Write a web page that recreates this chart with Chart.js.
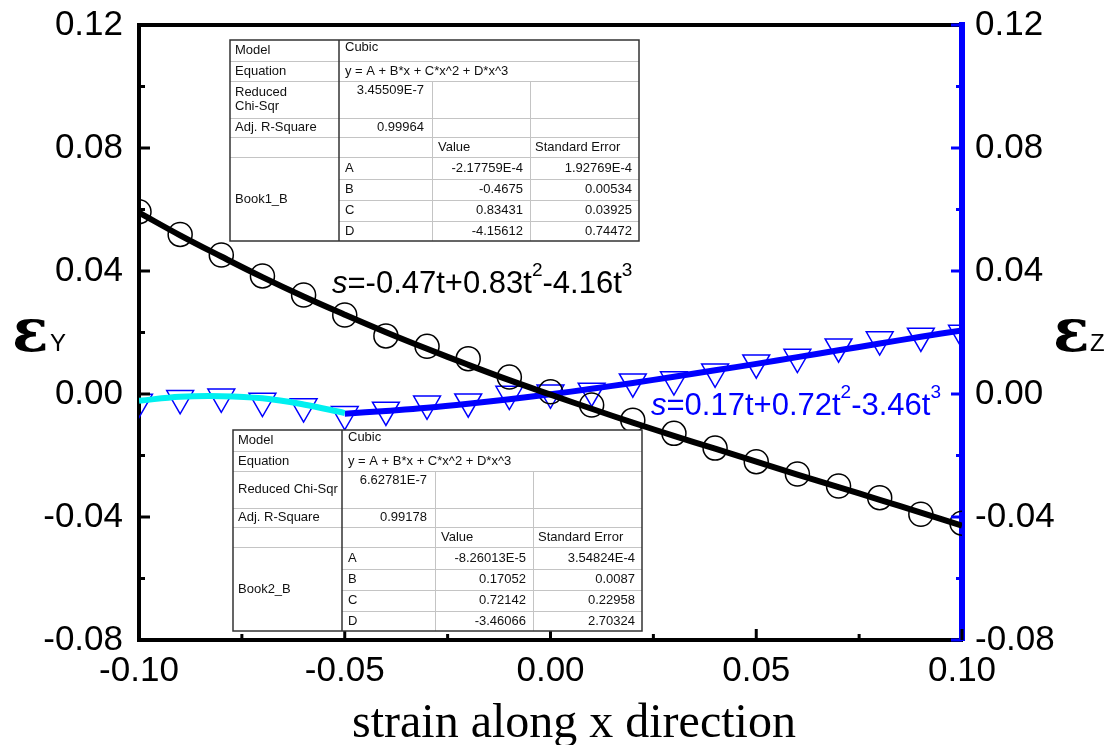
<!DOCTYPE html>
<html>
<head>
<meta charset="utf-8">
<script src="https://cdn.jsdelivr.net/npm/chart.js@4.4.0/dist/chart.umd.min.js"></script>
<style>
  html, body { margin: 0; padding: 0; background: #fff; }
  #wrap { width: 1111px; height: 745px; }
</style>
</head>
<body>
<div id="wrap"><canvas id="strain" width="1111" height="745"></canvas></div>
<script>
const SANS = "'Liberation Sans', Arial, sans-serif";
const SERIF = "'Liberation Serif', 'Times New Roman', serif";

// measured points (strain along x)
const strainX = [-0.10, -0.09, -0.08, -0.07, -0.06, -0.05, -0.04, -0.03, -0.02, -0.01, 0.00,
  0.01, 0.02, 0.03, 0.04, 0.05, 0.06, 0.07, 0.08, 0.09, 0.10];
const epsY = [0.0593, 0.0519, 0.0452, 0.0384, 0.0322, 0.0257, 0.0189, 0.0155, 0.0115, 0.0055, 0.0007,
  -0.0036, -0.0085, -0.0128, -0.0176, -0.0220, -0.0260, -0.0299, -0.0337, -0.0391, -0.0420];
const epsZ = [-0.0026, -0.0014, -0.0009, -0.0023, -0.0041, -0.0066, -0.0052, -0.0032, -0.0025, 0.0000, 0.0004,
  0.0010, 0.0040, 0.0047, 0.0072, 0.0102, 0.0120, 0.0154, 0.0177, 0.0189, 0.0198];

// fitted curves
const fitY = [0.0590, 0.0516, 0.0447, 0.0380, 0.0317, 0.0258, 0.0201, 0.0147, 0.0095, 0.0045, -0.0002,
  -0.0048, -0.0093, -0.0136, -0.0178, -0.0220, -0.0262, -0.0303, -0.0344, -0.0386, -0.0428];
const fitZLowX = [-0.10, -0.09, -0.08, -0.07, -0.06, -0.05];
const fitZLow = [-0.0022, -0.0009, -0.0007, -0.0014, -0.0034, -0.0062];
const fitZHighX = [-0.05, -0.04, -0.03, -0.02, -0.01, 0.00, 0.01, 0.02, 0.03, 0.04, 0.05, 0.06, 0.07, 0.08, 0.09, 0.10];
const fitZHigh = [-0.0064, -0.0055, -0.0045, -0.0032, -0.0017, -0.0001, 0.0017, 0.0036, 0.0056, 0.0077,
  0.0098, 0.0120, 0.0142, 0.0164, 0.0186, 0.0207];

// fit report tables
const fitModel = "Cubic";
const fitEquation = "y = A + B*x + C*x^2 + D*x^3";
const paramNames = ["A", "B", "C", "D"];
const fitYStats = ["3.45509E-7", "0.99964"];
const fitYValues = ["-2.17759E-4", "-0.4675", "0.83431", "-4.15612"];
const fitYErrors = ["1.92769E-4", "0.00534", "0.03925", "0.74472"];
const fitZStats = ["6.62781E-7", "0.99178"];
const fitZValues = ["-8.26013E-5", "0.17052", "0.72142", "-3.46066"];
const fitZErrors = ["3.54824E-4", "0.0087", "0.22958", "2.70324"];

const pts = (xs, ys) => xs.map((x, i) => ({ x: x, y: ys[i] }));
const fmt = v => (Math.abs(v) < 1e-9 ? 0 : v).toFixed(2);

function line(ctx, x1, y1, x2, y2) {
  ctx.beginPath();
  ctx.moveTo(x1, y1);
  ctx.lineTo(x2, y2);
  ctx.stroke();
}

// origin style ticks pointing into the plot
function inwardTicks(ctx, scale, side, color, area) {
  const vals = scale.ticks.map(t => t.value);
  const step = vals[1] - vals[0];
  ctx.strokeStyle = color;
  ctx.lineWidth = 3;
  const tick = (v, len) => {
    const p = scale.getPixelForValue(v);
    if (side === "left") line(ctx, area.left, p, area.left + len, p);
    if (side === "right") line(ctx, area.right, p, area.right - len, p);
    if (side === "bottom") line(ctx, p, area.bottom, p, area.bottom - len);
  };
  vals.forEach((v, i) => {
    tick(v, 11);
    if (i < vals.length - 1) tick(v + step / 2, 6);
  });
}

function drawFitTable(ctx, left, top, chiLines, stats, book, values, errors) {
  const cw = [109, 93, 98, 109];
  const rh = [21, 20, 37, 19, 20, 22, 21, 21, 20];
  const cx = [left];
  cw.forEach(w => cx.push(cx[cx.length - 1] + w));
  const ry = [top];
  rh.forEach(h => ry.push(ry[ry.length - 1] + h));
  const right = cx[4], bottom = ry[9];
  const mid = i => (ry[i] + ry[i + 1]) / 2;

  ctx.fillStyle = "#fff";
  ctx.fillRect(left, top, right - left, bottom - top);

  ctx.strokeStyle = "#c4c4c4";
  ctx.lineWidth = 1;
  for (let i = 1; i <= 5; i++) line(ctx, left, ry[i] + 0.5, right, ry[i] + 0.5);
  for (let i = 6; i <= 8; i++) line(ctx, cx[1], ry[i] + 0.5, right, ry[i] + 0.5);
  line(ctx, cx[2] + 0.5, ry[2], cx[2] + 0.5, bottom);
  line(ctx, cx[3] + 0.5, ry[2], cx[3] + 0.5, bottom);

  ctx.strokeStyle = "#333";
  ctx.lineWidth = 1.5;
  ctx.strokeRect(left, top, right - left, bottom - top);
  line(ctx, cx[1], top, cx[1], bottom);

  ctx.fillStyle = "#111";
  ctx.font = "13px " + SANS;
  ctx.textBaseline = "middle";
  ctx.textAlign = "left";
  ctx.fillText("Model", left + 5, mid(0));
  ctx.fillText(fitModel, cx[1] + 6, mid(0) - 3);
  ctx.fillText("Equation", left + 5, mid(1));
  ctx.fillText(fitEquation, cx[1] + 6, mid(1));
  const lh = 14;
  chiLines.forEach((t, k) => {
    ctx.fillText(t, left + 5, mid(2) + (k - (chiLines.length - 1) / 2) * lh);
  });
  ctx.fillText("Adj. R-Square", left + 5, mid(3));
  ctx.fillText("Value", cx[2] + 6, mid(4));
  ctx.fillText("Standard Error", cx[3] + 5, mid(4));
  ctx.fillText(book, left + 5, (ry[5] + ry[9]) / 2);
  paramNames.forEach((p, k) => ctx.fillText(p, cx[1] + 6, mid(5 + k)));

  ctx.textAlign = "right";
  ctx.fillText(stats[0], cx[2] - 8, ry[2] + 9);
  ctx.fillText(stats[1], cx[2] - 8, mid(3));
  values.forEach((v, k) => ctx.fillText(v, cx[3] - 7, mid(5 + k)));
  errors.forEach((v, k) => ctx.fillText(v, right - 7, mid(5 + k)));
}

// text with italic / superscript pieces
function richText(ctx, x, y, parts, color) {
  ctx.fillStyle = color;
  ctx.textAlign = "left";
  ctx.textBaseline = "alphabetic";
  parts.forEach(p => {
    ctx.font = (p.it ? "italic " : "") + (p.sup ? "19px " : "31px ") + SANS;
    ctx.fillText(p.t, x, p.sup ? y - 17 : y);
    x += ctx.measureText(p.t).width;
  });
}

const decorations = {
  id: "decorations",
  afterDraw(chart) {
    const ctx = chart.ctx;
    const area = chart.chartArea;
    ctx.save();
    inwardTicks(ctx, chart.scales.y, "left", "#000", area);
    inwardTicks(ctx, chart.scales.y2, "right", "#0000FF", area);
    inwardTicks(ctx, chart.scales.x, "bottom", "#000", area);

    drawFitTable(ctx, 230, 40, ["Reduced", "Chi-Sqr"], fitYStats, "Book1_B", fitYValues, fitYErrors);
    drawFitTable(ctx, 233, 430, ["Reduced Chi-Sqr"], fitZStats, "Book2_B", fitZValues, fitZErrors);

    richText(ctx, 332, 293, [
      { t: "s", it: true }, { t: "=-0.47t+0.83t" }, { t: "2", sup: true },
      { t: "-4.16t" }, { t: "3", sup: true }], "#000");
    richText(ctx, 651, 415, [
      { t: "s", it: true }, { t: "=0.17t+0.72t" }, { t: "2", sup: true },
      { t: "-3.46t" }, { t: "3", sup: true }], "#0000FF");

    // axis titles
    ctx.fillStyle = "#000";
    ctx.textAlign = "left";
    ctx.textBaseline = "alphabetic";
    ctx.font = "48px " + SERIF;
    ctx.fillText("strain along x direction", 352, 737);
    ctx.font = "bold 60px 'DejaVu Serif', serif";
    ctx.fillText("ε", 12, 351);
    ctx.fillText("ε", 1053, 351);
    ctx.font = "24px " + SANS;
    ctx.fillText("Y", 50, 351);
    ctx.fillText("Z", 1090, 351);
    ctx.restore();
  }
};

const lineSet = (data, color, axis) => ({
  type: "line",
  data: data,
  borderColor: color,
  borderWidth: 6,
  pointRadius: 0,
  tension: 0.4,
  fill: false,
  clip: 0,
  order: 0,
  yAxisID: axis
});

// keep the plot frame fixed: no extra room for the end tick labels
const fixWidth = w => s => { s.width = w; s.paddingTop = 0; s.paddingBottom = 0; };

new Chart("strain", {
  type: "scatter",
  data: {
    datasets: [
      lineSet(pts(strainX, fitY), "#000", "y"),
      lineSet(pts(fitZLowX, fitZLow), "#00F0F0", "y2"),
      lineSet(pts(fitZHighX, fitZHigh), "#0000FF", "y2"),
      {
        label: "εY",
        data: pts(strainX, epsY),
        pointStyle: "circle",
        pointRadius: 12,
        pointBorderColor: "#000",
        pointBackgroundColor: "rgba(0,0,0,0)",
        pointBorderWidth: 1.5,
        clip: 0,
        order: 1,
        yAxisID: "y"
      },
      {
        label: "εZ",
        data: pts(strainX, epsZ),
        pointStyle: "triangle",
        pointRotation: 180,
        pointRadius: 15.5,
        pointBorderColor: "#0000FF",
        pointBackgroundColor: "rgba(0,0,0,0)",
        pointBorderWidth: 1.5,
        clip: 0,
        order: 1,
        yAxisID: "y2"
      }
    ]
  },
  options: {
    responsive: false,
    animation: false,
    devicePixelRatio: 1,
    layout: { padding: 0, autoPadding: false },
    plugins: { legend: { display: false }, tooltip: { enabled: false } },
    scales: {
      x: {
        type: "linear", position: "bottom", min: -0.1, max: 0.1,
        ticks: { stepSize: 0.05, padding: 10, color: "#000", font: { family: SANS, size: 35 }, callback: fmt },
        grid: { display: false, drawTicks: false },
        border: { display: true, color: "#000", width: 4 },
        afterFit: s => { s.height = 105; }
      },
      xTop: {
        type: "linear", position: "top", min: -0.1, max: 0.1,
        ticks: { display: false },
        grid: { display: false, drawTicks: false },
        border: { display: true, color: "#000", width: 4 },
        afterFit: s => { s.height = 25; }
      },
      y: {
        type: "linear", position: "left", min: -0.08, max: 0.12,
        ticks: { stepSize: 0.04, padding: 16, color: "#000", font: { family: SANS, size: 35 }, callback: fmt },
        grid: { display: false, drawTicks: false },
        border: { display: true, color: "#000", width: 4 },
        afterFit: fixWidth(139)
      },
      y2: {
        type: "linear", position: "right", min: -0.08, max: 0.12,
        ticks: { stepSize: 0.04, padding: 13, color: "#000", font: { family: SANS, size: 35 }, callback: fmt },
        grid: { display: false, drawTicks: false },
        border: { display: true, color: "#0000FF", width: 6 },
        afterFit: fixWidth(149)
      }
    }
  },
  plugins: [decorations]
});
</script>
</body>
</html>
